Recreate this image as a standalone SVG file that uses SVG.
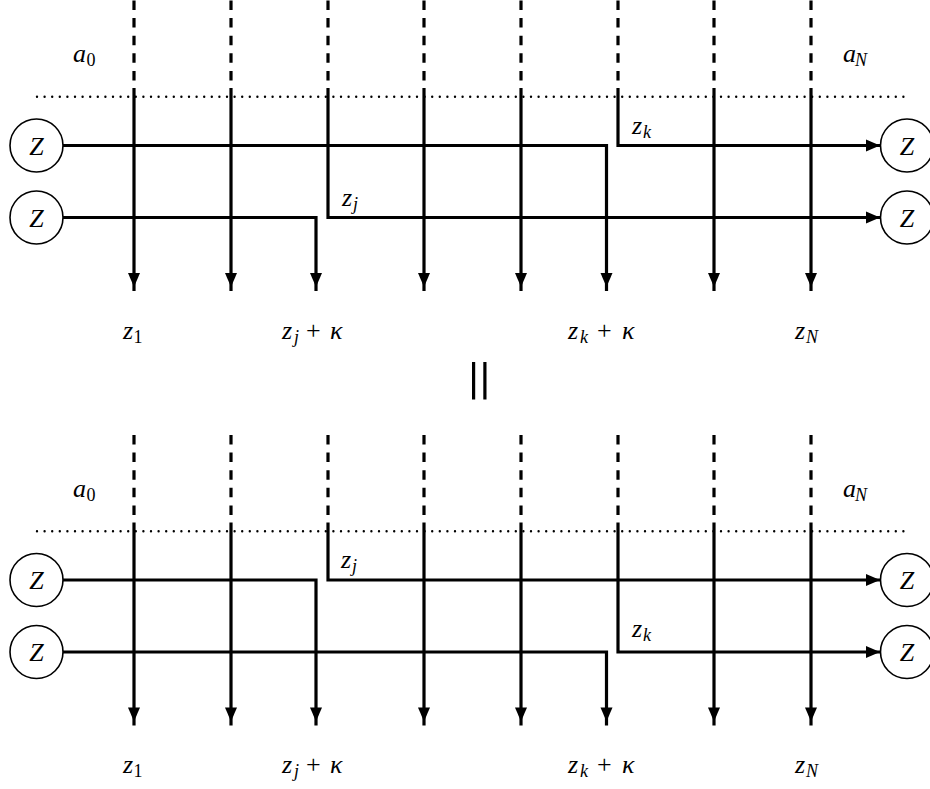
<svg xmlns="http://www.w3.org/2000/svg" width="930" height="789" viewBox="0 0 930 789">
  <style>
    .bg { fill: #ffffff; }
    .dash { stroke: #000; stroke-width: 3.2; stroke-dasharray: 9.5 8.1; fill: none; }
    .dot { stroke: #000; stroke-width: 2.4; stroke-linecap: round; stroke-dasharray: 0 7.6; fill: none; }
    .wire { stroke: #000; stroke-width: 3.2; fill: none; stroke-linejoin: miter; }
    .down { marker-end: url(#ahDown); }
    .right { marker-end: url(#ahRight); }
    .node circle { fill: #fff; stroke: #000; stroke-width: 1.6; }
    text { font-family: "Liberation Serif", "DejaVu Serif", serif; font-style: italic; font-size: 26px; fill: #000; }
    .sub { font-size: 18px; }
    .rm { font-style: normal; }
    .zn { text-anchor: middle; }
  </style>
  <defs>
    <marker id="ahDown" viewBox="-20 -8 22 16" refX="0" refY="0" markerWidth="22" markerHeight="16" markerUnits="userSpaceOnUse" orient="auto">
      <path d="M-18,-6 L-4,0 L-18,6 Z" fill="#000"/>
    </marker>
    <marker id="ahRight" viewBox="-16 -8 18 16" refX="0" refY="0" markerWidth="18" markerHeight="16" markerUnits="userSpaceOnUse" orient="auto">
      <path d="M-14,-6 L0,0 L-14,6 Z" fill="#000"/>
    </marker>
  </defs>
  <rect class="bg" x="0" y="0" width="930" height="789"/>

  <!-- ===== Top panel ===== -->
  <g id="panel-top">
    <g id="top-connectors">
      <path class="dash" d="M134,0.5 V88 M231,0.5 V88 M328,0.5 V88 M424,0.5 V88 M521,0.5 V88 M618,0.5 V88 M714,0.5 V88 M811,0.5 V88"/>
      <path class="dot" d="M37,96.7 H910"/>
      <path class="wire down" d="M134,88 V291"/>
      <path class="wire down" d="M231,88 V291"/>
      <path class="wire down" d="M424,88 V291"/>
      <path class="wire down" d="M521,88 V291"/>
      <path class="wire down" d="M714,88 V291"/>
      <path class="wire down" d="M811,88 V291"/>
      <path class="wire down" d="M63,145.5 H606.5 V291"/>
      <path class="wire right" d="M618,88 V145.5 H880"/>
      <path class="wire down" d="M63,217.5 H316 V291"/>
      <path class="wire right" d="M328,88 V217.5 H880"/>
    </g>
    <g id="top-Z-left-1" class="node"><circle cx="36.5" cy="145.5" r="26.5"/><text class="zn" x="36.5" y="154.5">Z</text></g>
    <g id="top-Z-left-2" class="node"><circle cx="36.5" cy="217.5" r="26.5"/><text class="zn" x="36.5" y="226.5">Z</text></g>
    <g id="top-Z-right-1" class="node"><circle cx="907" cy="145.5" r="26.5"/><text class="zn" x="907" y="154.5">Z</text></g>
    <g id="top-Z-right-2" class="node"><circle cx="907" cy="217.5" r="26.5"/><text class="zn" x="907" y="226.5">Z</text></g>
    <g id="top-labels">
      <text x="73" y="62">a<tspan class="sub rm" x="86.5" dy="4">0</tspan></text>
      <text x="843" y="62">a<tspan class="sub" x="855" dy="4">N</tspan></text>
      <text x="632" y="134">z<tspan class="sub" x="643" dy="4">k</tspan></text>
      <text x="342" y="206">z<tspan class="sub" x="353" dy="4">j</tspan></text>
      <text x="123" y="339">z<tspan class="sub rm" x="133.5" dy="4">1</tspan></text>
      <text x="282" y="339">z<tspan class="sub" x="294" dy="4">j</tspan><tspan class="rm" x="306" dy="-4">+</tspan><tspan x="330">κ</tspan></text>
      <text x="568" y="339">z<tspan class="sub" x="580" dy="4">k</tspan><tspan class="rm" x="597" dy="-4">+</tspan><tspan x="622">κ</tspan></text>
      <text x="795" y="339">z<tspan class="sub" x="806" dy="4">N</tspan></text>
    </g>
  </g>

  <!-- equals bars -->
  <g id="equals">
    <rect x="472" y="362" width="3.2" height="37.5" fill="#000"/>
    <rect x="483.3" y="362" width="3.2" height="37.5" fill="#000"/>
  </g>

  <!-- ===== Bottom panel ===== -->
  <g id="panel-bottom" transform="translate(0,434.5)">
    <g id="bottom-connectors">
      <path class="dash" d="M134,0.5 V88 M231,0.5 V88 M328,0.5 V88 M424,0.5 V88 M521,0.5 V88 M618,0.5 V88 M714,0.5 V88 M811,0.5 V88"/>
      <path class="dot" d="M37,96.7 H910"/>
      <path class="wire down" d="M134,88 V291"/>
      <path class="wire down" d="M231,88 V291"/>
      <path class="wire down" d="M424,88 V291"/>
      <path class="wire down" d="M521,88 V291"/>
      <path class="wire down" d="M714,88 V291"/>
      <path class="wire down" d="M811,88 V291"/>
      <path class="wire down" d="M63,145.5 H316 V291"/>
      <path class="wire right" d="M328,88 V145.5 H880"/>
      <path class="wire down" d="M63,217.5 H606.5 V291"/>
      <path class="wire right" d="M618,88 V217.5 H880"/>
    </g>
    <g id="bottom-Z-left-1" class="node"><circle cx="36.5" cy="145.5" r="26.5"/><text class="zn" x="36.5" y="154.5">Z</text></g>
    <g id="bottom-Z-left-2" class="node"><circle cx="36.5" cy="217.5" r="26.5"/><text class="zn" x="36.5" y="226.5">Z</text></g>
    <g id="bottom-Z-right-1" class="node"><circle cx="907" cy="145.5" r="26.5"/><text class="zn" x="907" y="154.5">Z</text></g>
    <g id="bottom-Z-right-2" class="node"><circle cx="907" cy="217.5" r="26.5"/><text class="zn" x="907" y="226.5">Z</text></g>
    <g id="bottom-labels">
      <text x="73" y="62">a<tspan class="sub rm" x="86.5" dy="4">0</tspan></text>
      <text x="843" y="62">a<tspan class="sub" x="855" dy="4">N</tspan></text>
      <text x="341" y="133">z<tspan class="sub" x="352" dy="4">j</tspan></text>
      <text x="632" y="202">z<tspan class="sub" x="643" dy="4">k</tspan></text>
      <text x="123" y="338">z<tspan class="sub rm" x="133.5" dy="4">1</tspan></text>
      <text x="282" y="338">z<tspan class="sub" x="294" dy="4">j</tspan><tspan class="rm" x="306" dy="-4">+</tspan><tspan x="330">κ</tspan></text>
      <text x="568" y="338">z<tspan class="sub" x="580" dy="4">k</tspan><tspan class="rm" x="597" dy="-4">+</tspan><tspan x="622">κ</tspan></text>
      <text x="795" y="338">z<tspan class="sub" x="806" dy="4">N</tspan></text>
    </g>
  </g>
</svg>
